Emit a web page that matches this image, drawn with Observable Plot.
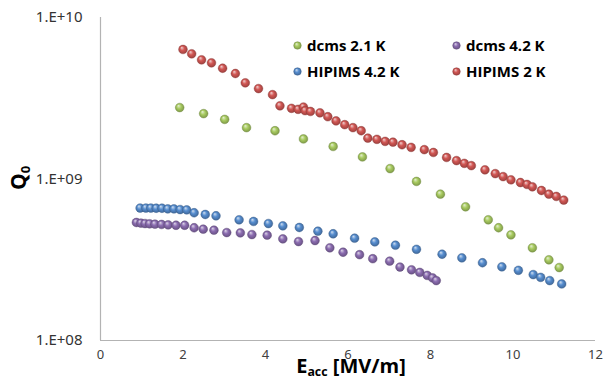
<!DOCTYPE html>
<html>
<head>
<meta charset="utf-8">
<script src="https://cdn.jsdelivr.net/npm/d3@7"></script>
<script src="https://cdn.jsdelivr.net/npm/@observablehq/plot@0.6"></script>
<style>
  html, body { margin: 0; padding: 0; background: #fff; }
  #wrap { position: relative; width: 605px; height: 384px; overflow: hidden; font-family: "Open Sans", sans-serif; }
  #wrap svg.plot { position: absolute; left: 0; top: 0; }
  .ytitle { position: absolute; left: 19px; top: 178px; transform: translate(-50%, -50%) rotate(-90deg); font: bold 21px "Open Sans", sans-serif; color: #000; white-space: nowrap; }
  .xtitle { position: absolute; left: 351px; top: 352px; transform: translateX(-50%); font: bold 20px "Open Sans", sans-serif; color: #000; white-space: nowrap; }
  sub { font-size: 0.62em; vertical-align: -0.25em; }
  .leg { position: absolute; font: bold 15px "Open Sans", sans-serif; color: #000; white-space: nowrap; display: flex; align-items: center; }
  .leg svg { margin-right: 5px; }
</style>
</head>
<body>
<div id="wrap"></div>
<script>
// ---- data ----
const xTicks = [0, 2, 4, 6, 8, 10, 12];
const yTicks = [1e8, 1e9, 1e10];
const yTickLabels = ["1.E+08", "1.E+09", "1.E+10"];

const seriesNames = ["dcms 2.1 K", "dcms 4.2 K", "HIPIMS 4.2 K", "HIPIMS 2 K"];
const seriesColors = ["#9bbb59", "#8064a2", "#4f81bd", "#c0504d"];

const dcms21E = [1.92, 2.50, 3.01, 3.54, 4.23, 4.92, 5.64, 6.35, 7.02, 7.66, 8.24, 8.85, 9.40, 9.65, 9.95, 10.47, 10.87, 11.12];
const dcms21Q = [2.77e9, 2.54e9, 2.34e9, 2.08e9, 1.99e9, 1.77e9, 1.59e9, 1.37e9, 1.16e9, 9.66e8, 8.06e8, 6.73e8, 5.59e8, 4.99e8, 4.51e8, 3.75e8, 3.16e8, 2.83e8];

const dcms42E = [0.87, 0.98, 1.08, 1.19, 1.32, 1.48, 1.64, 1.83, 2.04, 2.27, 2.49, 2.75, 3.06, 3.39, 3.67, 4.04, 4.42, 4.80, 5.20, 5.56, 5.88, 6.28, 6.60, 7.01, 7.26, 7.54, 7.74, 7.92, 8.05, 8.14];
const dcms42Q = [5.38e8, 5.33e8, 5.30e8, 5.28e8, 5.25e8, 5.23e8, 5.20e8, 5.17e8, 5.17e8, 4.99e8, 4.89e8, 4.82e8, 4.66e8, 4.64e8, 4.53e8, 4.49e8, 4.26e8, 4.10e8, 4.16e8, 3.75e8, 3.52e8, 3.40e8, 3.21e8, 3.10e8, 2.85e8, 2.74e8, 2.64e8, 2.53e8, 2.44e8, 2.35e8];

const hip42E = [0.96, 1.10, 1.22, 1.35, 1.49, 1.63, 1.78, 1.93, 2.09, 2.27, 2.54, 2.80, 3.36, 3.71, 4.07, 4.42, 4.82, 5.27, 5.64, 6.16, 6.65, 7.15, 7.66, 8.28, 8.76, 9.26, 9.73, 10.13, 10.49, 10.67, 10.89, 11.18];
const hip42Q = [6.61e8, 6.61e8, 6.61e8, 6.59e8, 6.59e8, 6.53e8, 6.53e8, 6.47e8, 6.44e8, 6.18e8, 6.03e8, 5.92e8, 5.59e8, 5.46e8, 5.30e8, 5.13e8, 5.01e8, 4.75e8, 4.58e8, 4.30e8, 4.08e8, 3.89e8, 3.67e8, 3.42e8, 3.25e8, 3.03e8, 2.86e8, 2.72e8, 2.56e8, 2.46e8, 2.35e8, 2.24e8];

const hip2E = [2.00, 2.21, 2.45, 2.69, 2.96, 3.27, 3.51, 3.83, 4.17, 4.35, 4.63, 4.79, 4.92, 4.96, 5.09, 5.32, 5.51, 5.71, 5.92, 6.12, 6.32, 6.48, 6.70, 6.90, 7.09, 7.31, 7.53, 7.85, 8.07, 8.39, 8.63, 8.82, 8.99, 9.32, 9.57, 9.76, 9.95, 10.18, 10.34, 10.47, 10.69, 10.87, 11.05, 11.23];
const hip2Q = [6.34e9, 5.96e9, 5.47e9, 5.24e9, 4.85e9, 4.50e9, 3.94e9, 3.63e9, 3.33e9, 2.84e9, 2.74e9, 2.70e9, 2.79e9, 2.65e9, 2.62e9, 2.57e9, 2.43e9, 2.29e9, 2.17e9, 2.08e9, 1.99e9, 1.79e9, 1.76e9, 1.71e9, 1.69e9, 1.63e9, 1.57e9, 1.52e9, 1.46e9, 1.36e9, 1.30e9, 1.25e9, 1.21e9, 1.14e9, 1.08e9, 1.035e9, 9.89e8, 9.51e8, 9.25e8, 8.95e8, 8.49e8, 8.05e8, 7.80e8, 7.40e8];

// ---- build ----
const seriesE = [dcms21E, dcms42E, hip42E, hip2E];
const seriesQ = [dcms21Q, dcms42Q, hip42Q, hip2Q];
const gradIds = ["g-green", "g-purple", "g-blue", "g-red"];

const dotMarks = seriesE.map((E, i) =>
  Plot.dot(E.map((e, j) => ({E: e, Q: seriesQ[i][j]})), {
    x: "E", y: "Q", r: 4.4,
    fill: `url(#${gradIds[i]})`,
    stroke: d3.color(seriesColors[i]).darker(0.8).formatHex(),
    strokeWidth: 0.4
  })
);

const chart = Plot.plot({
  width: 605,
  height: 384,
  marginLeft: 100,
  marginRight: 10,
  marginTop: 17,
  marginBottom: 44,
  style: {background: "#fff", overflow: "visible"},
  x: {domain: [0, 12]},
  y: {type: "log", domain: [1e8, 1e10]},
  marks: [
    Plot.axisX({ticks: xTicks, tickSize: 0, tickPadding: 9, label: null, fontSize: 13, fill: "#404040", tickFormat: d => String(d)}),
    Plot.axisY({ticks: yTicks, tickSize: 0, tickPadding: 18, label: null, fontSize: 15, fill: "#333", tickFormat: d => yTickLabels[yTicks.indexOf(d)]}),
    Plot.ruleX([0], {stroke: "#b3b3b3", strokeWidth: 1.2}),
    Plot.ruleY([1e8], {stroke: "#b3b3b3", strokeWidth: 1.2}),
    ...dotMarks
  ]
});
chart.classList.add("plot");

// sphere gradients
const defs = d3.select(chart).insert("defs", ":first-child");
function addGrad(sel, id, base) {
  const c = d3.color(base);
  const g = sel.append("radialGradient").attr("id", id)
    .attr("cx", "50%").attr("cy", "50%").attr("r", "55%")
    .attr("fx", "35%").attr("fy", "28%");
  g.append("stop").attr("offset", "0%").attr("stop-color", d3.interpolateRgb(base, "#fff")(0.75));
  g.append("stop").attr("offset", "45%").attr("stop-color", c.brighter(0.25).formatHex());
  g.append("stop").attr("offset", "100%").attr("stop-color", c.darker(0.7).formatHex());
}
gradIds.forEach((id, i) => addGrad(defs, id, seriesColors[i]));

const wrap = document.getElementById("wrap");
wrap.appendChild(chart);

// axis titles
const yt = document.createElement("div");
yt.className = "ytitle";
yt.innerHTML = "Q<sub>0</sub>";
wrap.appendChild(yt);
const xt = document.createElement("div");
xt.className = "xtitle";
xt.innerHTML = "E<sub>acc</sub> [MV/m]";
wrap.appendChild(xt);

// legend (order as in reference: row1 dcms 2.1, dcms 4.2; row2 HIPIMS 4.2, HIPIMS 2)
const legPos = [[293, 46], [452, 46], [293, 72], [452, 72]];
seriesNames.forEach((name, i) => {
  const d = document.createElement("div");
  d.className = "leg";
  d.style.left = legPos[i][0] + "px";
  d.style.top = (legPos[i][1] - 11) + "px";
  const gid = "lg" + i;
  const c = d3.color(seriesColors[i]);
  d.innerHTML = `<svg width="9" height="9" viewBox="0 0 9 9"><defs><radialGradient id="${gid}" cx="50%" cy="50%" r="55%" fx="35%" fy="28%"><stop offset="0%" stop-color="${d3.interpolateRgb(seriesColors[i], "#fff")(0.75)}"/><stop offset="45%" stop-color="${c.brighter(0.25).formatHex()}"/><stop offset="100%" stop-color="${c.darker(0.7).formatHex()}"/></radialGradient></defs><circle cx="4.5" cy="4.5" r="3.8" fill="url(#${gid})" stroke="${c.darker(0.8).formatHex()}" stroke-width="0.4"/></svg><span>${name}</span>`;
  wrap.appendChild(d);
});
</script>
</body>
</html>
